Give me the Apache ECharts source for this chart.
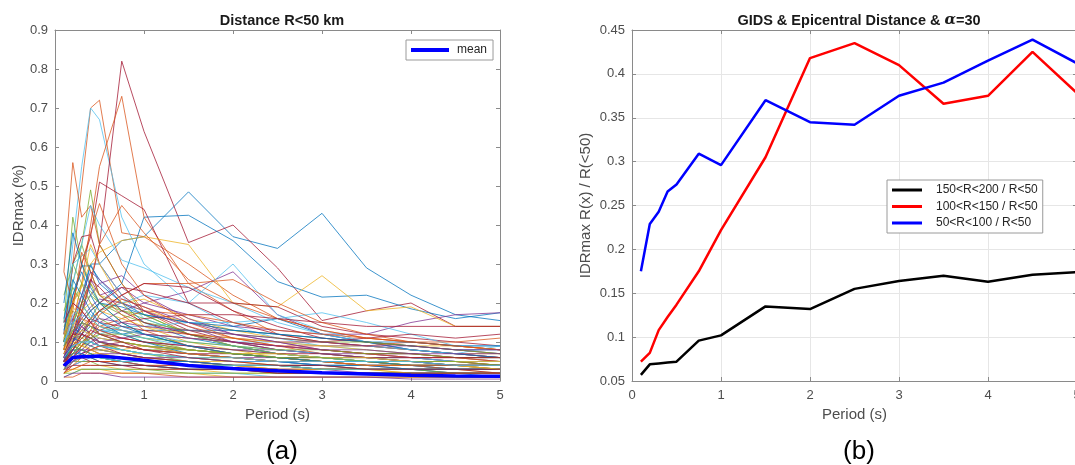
<!DOCTYPE html>
<html>
<head>
<meta charset="utf-8">
<script src="https://cdn.jsdelivr.net/npm/echarts@6/dist/echarts.min.js"></script>
<style>
html,body{margin:0;padding:0;background:#fff;}
#chart{width:1075px;height:465px;}
</style>
</head>
<body>
<div id="chart"></div>
<script>
// ---------------- DATA ----------------
const periods = [0.1, 0.2, 0.3, 0.4, 0.5, 0.75, 1, 1.5, 2, 2.5, 3, 3.5, 4, 4.5, 5];
const xTicks = [0, 1, 2, 3, 4, 5];

// panel (a): mean IDRmax (%)
const meanIDR = [0.039, 0.060, 0.062, 0.063, 0.064, 0.059, 0.053, 0.040, 0.032, 0.026, 0.021, 0.018, 0.015, 0.013, 0.012];

// panel (a): individual records, IDRmax (%) per period
const records = [
  [0.05,0.10,0.20,0.30,0.30,0.36,0.37,0.485,0.37,0.34,0.43,0.29,0.22,0.17,0.155],
  [0.10,0.30,0.50,0.70,0.72,0.38,0.37,0.30,0.22,0.16,0.13,0.11,0.10,0.09,0.08],
  [0.05,0.12,0.20,0.25,0.22,0.20,0.18,0.15,0.13,0.12,0.11,0.10,0.09,0.09,0.08],
  [0.03,0.06,0.09,0.12,0.15,0.18,0.20,0.23,0.28,0.17,0.12,0.10,0.08,0.07,0.06],
  [0.10,0.30,0.35,0.49,0.35,0.25,0.17,0.12,0.09,0.07,0.06,0.05,0.05,0.04,0.04],
  [0.12,0.35,0.55,0.70,0.67,0.42,0.30,0.20,0.14,0.11,0.09,0.08,0.07,0.06,0.06],
  [0.05,0.10,0.18,0.25,0.35,0.82,0.64,0.355,0.40,0.29,0.155,0.18,0.20,0.14,0.14],

  [0.04,0.08,0.12,0.16,0.20,0.25,0.42,0.425,0.36,0.255,0.215,0.22,0.185,0.16,0.175],
  [0.08,0.15,0.25,0.40,0.55,0.73,0.42,0.25,0.18,0.12,0.10,0.09,0.08,0.07,0.06],
  [0.05,0.09,0.13,0.16,0.18,0.20,0.21,0.16,0.13,0.11,0.10,0.09,0.08,0.07,0.07],
  [0.04,0.10,0.17,0.26,0.22,0.24,0.20,0.17,0.14,0.13,0.12,0.12,0.15,0.17,0.175],
  [0.15,0.42,0.30,0.25,0.20,0.15,0.12,0.09,0.07,0.06,0.05,0.05,0.04,0.04,0.03],
  [0.04,0.08,0.12,0.15,0.18,0.20,0.22,0.20,0.30,0.17,0.13,0.10,0.08,0.07,0.06],
  [0.10,0.20,0.30,0.37,0.51,0.475,0.44,0.20,0.15,0.12,0.10,0.09,0.08,0.07,0.06],

  [0.06,0.14,0.22,0.30,0.25,0.20,0.17,0.15,0.14,0.16,0.12,0.10,0.08,0.07,0.06],
  [0.28,0.56,0.42,0.45,0.35,0.25,0.18,0.12,0.09,0.07,0.06,0.05,0.05,0.04,0.04],
  [0.06,0.15,0.25,0.30,0.33,0.36,0.37,0.35,0.20,0.19,0.27,0.18,0.19,0.14,0.14],
  [0.06,0.12,0.18,0.22,0.25,0.27,0.22,0.16,0.12,0.10,0.08,0.07,0.06,0.05,0.05],
  [0.08,0.25,0.35,0.28,0.22,0.18,0.16,0.12,0.10,0.08,0.07,0.06,0.05,0.05,0.04],
  [0.12,0.25,0.35,0.45,0.40,0.31,0.29,0.24,0.20,0.15,0.12,0.10,0.09,0.08,0.07],
  [0.12,0.30,0.37,0.375,0.30,0.22,0.18,0.13,0.10,0.08,0.07,0.06,0.05,0.05,0.04],

  [0.10,0.22,0.295,0.295,0.26,0.20,0.15,0.11,0.09,0.07,0.06,0.05,0.05,0.04,0.04],
  [0.05,0.10,0.18,0.26,0.35,0.45,0.38,0.26,0.20,0.16,0.13,0.11,0.10,0.09,0.08],
  [0.05,0.08,0.10,0.09,0.08,0.08,0.09,0.08,0.07,0.06,0.06,0.05,0.05,0.05,0.05],
  [0.06,0.12,0.15,0.14,0.13,0.11,0.10,0.09,0.08,0.08,0.07,0.07,0.07,0.06,0.06],
  [0.22,0.30,0.25,0.20,0.16,0.13,0.11,0.08,0.07,0.06,0.05,0.04,0.04,0.04,0.03],
  [0.15,0.30,0.32,0.34,0.30,0.22,0.16,0.12,0.09,0.07,0.06,0.05,0.05,0.04,0.04],
  [0.05,0.10,0.15,0.18,0.20,0.24,0.23,0.20,0.20,0.19,0.14,0.12,0.11,0.10,0.09],

  [0.06,0.10,0.12,0.14,0.13,0.12,0.13,0.13,0.13,0.12,0.11,0.10,0.09,0.08,0.08],
  [0.08,0.20,0.30,0.38,0.455,0.30,0.22,0.15,0.11,0.09,0.07,0.06,0.05,0.05,0.04],
  [0.03,0.05,0.06,0.07,0.07,0.06,0.05,0.04,0.04,0.03,0.03,0.03,0.02,0.02,0.02],
  [0.04,0.06,0.07,0.08,0.08,0.07,0.06,0.05,0.04,0.04,0.03,0.03,0.03,0.02,0.02],
  [0.08,0.15,0.20,0.22,0.20,0.18,0.17,0.12,0.09,0.07,0.06,0.05,0.05,0.04,0.04],
  [0.03,0.06,0.08,0.10,0.12,0.14,0.14,0.15,0.15,0.16,0.175,0.15,0.12,0.09,0.09],
  [0.03,0.06,0.09,0.11,0.13,0.15,0.16,0.17,0.17,0.16,0.15,0.14,0.14,0.14,0.14],

  [0.10,0.14,0.12,0.10,0.09,0.08,0.07,0.06,0.05,0.05,0.04,0.04,0.04,0.03,0.03],
  [0.04,0.08,0.12,0.16,0.18,0.22,0.25,0.25,0.26,0.20,0.15,0.12,0.10,0.09,0.08],
  [0.06,0.09,0.11,0.12,0.10,0.08,0.07,0.06,0.05,0.04,0.04,0.03,0.03,0.03,0.02],
  [0.12,0.16,0.14,0.12,0.10,0.09,0.08,0.07,0.06,0.05,0.05,0.04,0.04,0.04,0.04],
  [0.05,0.07,0.09,0.10,0.09,0.08,0.07,0.06,0.06,0.05,0.05,0.05,0.04,0.04,0.04],
  [0.04,0.07,0.10,0.12,0.13,0.13,0.12,0.11,0.10,0.10,0.09,0.09,0.08,0.07,0.09],
  [0.05,0.10,0.14,0.16,0.15,0.14,0.13,0.12,0.11,0.10,0.10,0.11,0.12,0.11,0.12],

  [0.09,0.11,0.10,0.09,0.08,0.07,0.06,0.05,0.04,0.04,0.03,0.03,0.03,0.02,0.02],
  [0.28,0.20,0.18,0.15,0.13,0.11,0.10,0.08,0.07,0.06,0.05,0.05,0.04,0.04,0.04],
  [0.07,0.10,0.09,0.08,0.07,0.06,0.06,0.05,0.05,0.04,0.04,0.04,0.03,0.03,0.03],
  [0.02,0.04,0.05,0.05,0.05,0.05,0.04,0.04,0.03,0.03,0.03,0.02,0.02,0.02,0.02],
  [0.14,0.18,0.15,0.12,0.10,0.08,0.07,0.05,0.04,0.04,0.03,0.03,0.03,0.02,0.02],
  [0.03,0.04,0.05,0.06,0.06,0.06,0.05,0.05,0.04,0.04,0.03,0.03,0.03,0.03,0.03],
  [0.04,0.08,0.12,0.15,0.18,0.22,0.25,0.24,0.18,0.14,0.11,0.10,0.09,0.08,0.07],

  [0.06,0.08,0.08,0.07,0.06,0.05,0.05,0.04,0.03,0.03,0.02,0.02,0.02,0.02,0.01],
  [0.07,0.13,0.16,0.15,0.14,0.13,0.12,0.11,0.10,0.09,0.09,0.09,0.10,0.10,0.11],
  [0.02,0.03,0.04,0.04,0.04,0.03,0.03,0.03,0.02,0.02,0.02,0.02,0.01,0.01,0.01],
  [0.04,0.06,0.08,0.10,0.11,0.10,0.09,0.07,0.06,0.05,0.04,0.04,0.03,0.03,0.03],
  [0.10,0.12,0.11,0.10,0.09,0.09,0.08,0.08,0.07,0.07,0.06,0.06,0.06,0.05,0.05],
  [0.01,0.02,0.03,0.03,0.03,0.03,0.02,0.02,0.02,0.01,0.01,0.01,0.01,0.01,0.01],
  [0.03,0.05,0.07,0.08,0.09,0.10,0.09,0.08,0.07,0.06,0.05,0.05,0.04,0.04,0.04],

  [0.08,0.09,0.08,0.07,0.06,0.05,0.04,0.03,0.03,0.02,0.02,0.02,0.02,0.01,0.01],
  [0.05,0.06,0.06,0.06,0.05,0.05,0.05,0.04,0.04,0.04,0.04,0.03,0.03,0.03,0.03],
  [0.02,0.03,0.03,0.03,0.03,0.02,0.02,0.02,0.01,0.01,0.01,0.01,0.01,0.01,0.01],
  [0.06,0.11,0.14,0.12,0.10,0.09,0.08,0.07,0.06,0.06,0.05,0.05,0.05,0.04,0.04],
  [0.04,0.05,0.05,0.05,0.04,0.04,0.04,0.03,0.03,0.03,0.02,0.02,0.02,0.02,0.02],
  [0.11,0.13,0.12,0.11,0.10,0.09,0.08,0.07,0.06,0.05,0.05,0.04,0.04,0.04,0.04],
  [0.03,0.04,0.04,0.04,0.04,0.04,0.03,0.03,0.03,0.02,0.02,0.02,0.02,0.02,0.02],

  [0.07,0.08,0.07,0.06,0.05,0.04,0.04,0.03,0.03,0.03,0.02,0.02,0.02,0.02,0.02],
  [0.01,0.01,0.02,0.02,0.02,0.02,0.02,0.01,0.01,0.01,0.01,0.01,0.01,0.01,0.01],
  [0.09,0.10,0.09,0.08,0.08,0.07,0.07,0.06,0.06,0.05,0.05,0.05,0.04,0.04,0.04],
  [0.05,0.07,0.08,0.08,0.07,0.07,0.06,0.06,0.05,0.05,0.05,0.04,0.04,0.04,0.03],
  [0.02,0.02,0.03,0.03,0.03,0.03,0.03,0.02,0.02,0.02,0.02,0.02,0.02,0.01,0.01],
  [0.13,0.15,0.13,0.12,0.11,0.10,0.09,0.08,0.07,0.06,0.06,0.05,0.05,0.05,0.05],
  [0.04,0.09,0.12,0.11,0.09,0.07,0.06,0.05,0.04,0.04,0.03,0.03,0.03,0.03,0.02],

  [0.06,0.07,0.07,0.06,0.06,0.05,0.05,0.05,0.04,0.04,0.04,0.03,0.03,0.03,0.03],
  [0.03,0.03,0.04,0.05,0.05,0.05,0.04,0.04,0.04,0.03,0.03,0.03,0.03,0.03,0.03],
  [0.08,0.12,0.10,0.08,0.07,0.06,0.05,0.04,0.04,0.03,0.03,0.03,0.02,0.02,0.02],
  [0.01,0.02,0.02,0.02,0.02,0.01,0.01,0.01,0.01,0.01,0.01,0.01,0.005,0.005,0.005],
  [0.05,0.09,0.08,0.07,0.06,0.05,0.05,0.04,0.04,0.04,0.03,0.03,0.03,0.03,0.03],
  [0.07,0.09,0.10,0.10,0.09,0.08,0.07,0.06,0.05,0.05,0.04,0.04,0.04,0.03,0.03],
  [0.02,0.05,0.06,0.05,0.05,0.04,0.04,0.03,0.03,0.02,0.02,0.02,0.02,0.02,0.02],

  [0.05,0.10,0.15,0.18,0.20,0.19,0.17,0.15,0.13,0.12,0.11,0.10,0.10,0.09,0.09],
  [0.04,0.07,0.10,0.12,0.14,0.16,0.18,0.17,0.15,0.13,0.12,0.11,0.10,0.09,0.08],
  [0.08,0.14,0.18,0.20,0.18,0.16,0.14,0.12,0.11,0.10,0.09,0.08,0.07,0.06,0.05],
  [0.06,0.12,0.16,0.19,0.21,0.20,0.18,0.14,0.10,0.08,0.07,0.06,0.06,0.05,0.05],
  [0.10,0.20,0.25,0.23,0.20,0.17,0.15,0.13,0.12,0.11,0.10,0.10,0.09,0.08,0.07],
  [0.03,0.05,0.06,0.06,0.06,0.05,0.05,0.04,0.04,0.04,0.03,0.03,0.03,0.03,0.03],
  [0.09,0.12,0.12,0.11,0.10,0.09,0.08,0.07,0.07,0.06,0.06,0.06,0.05,0.05,0.05],

  [0.20,0.38,0.30,0.24,0.20,0.15,0.12,0.09,0.07,0.06,0.05,0.04,0.04,0.03,0.03],
  [0.08,0.18,0.33,0.28,0.22,0.17,0.13,0.09,0.07,0.06,0.05,0.04,0.04,0.03,0.03],
  [0.12,0.20,0.24,0.35,0.30,0.20,0.14,0.10,0.08,0.06,0.05,0.05,0.04,0.04,0.03],
  [0.05,0.16,0.22,0.28,0.26,0.21,0.19,0.15,0.12,0.10,0.08,0.07,0.06,0.06,0.05],
  [0.18,0.24,0.20,0.16,0.14,0.12,0.10,0.08,0.07,0.06,0.05,0.05,0.04,0.04,0.04],
  [0.09,0.17,0.19,0.17,0.15,0.13,0.12,0.10,0.09,0.08,0.07,0.06,0.06,0.05,0.05],
  [0.07,0.12,0.20,0.26,0.24,0.18,0.15,0.12,0.10,0.09,0.08,0.07,0.07,0.06,0.06],

  [0.16,0.26,0.22,0.18,0.15,0.12,0.10,0.07,0.06,0.05,0.04,0.04,0.03,0.03,0.03],
  [0.04,0.06,0.09,0.13,0.17,0.21,0.19,0.14,0.11,0.09,0.08,0.07,0.06,0.06,0.05],
  [0.11,0.19,0.16,0.14,0.12,0.10,0.09,0.07,0.06,0.05,0.05,0.04,0.04,0.04,0.03],
  [0.06,0.10,0.13,0.15,0.16,0.15,0.14,0.13,0.12,0.11,0.10,0.09,0.09,0.08,0.08],
  [0.03,0.07,0.10,0.11,0.12,0.12,0.11,0.10,0.09,0.08,0.08,0.07,0.07,0.06,0.06],
  [0.10,0.15,0.17,0.16,0.14,0.12,0.11,0.09,0.08,0.07,0.06,0.06,0.05,0.05,0.05],
  [0.05,0.08,0.11,0.13,0.12,0.11,0.10,0.09,0.08,0.07,0.07,0.06,0.06,0.06,0.06],

  [0.13,0.22,0.28,0.22,0.18,0.14,0.12,0.09,0.07,0.06,0.05,0.05,0.04,0.04,0.04],
  [0.02,0.04,0.06,0.08,0.09,0.09,0.08,0.07,0.06,0.05,0.05,0.04,0.04,0.04,0.04],
  [0.07,0.11,0.13,0.12,0.11,0.10,0.09,0.08,0.07,0.07,0.06,0.06,0.05,0.05,0.05],
  [0.04,0.05,0.07,0.09,0.10,0.11,0.12,0.11,0.10,0.09,0.08,0.08,0.07,0.07,0.07],
  [0.09,0.13,0.15,0.14,0.12,0.10,0.09,0.08,0.07,0.06,0.06,0.05,0.05,0.05,0.04],
  [0.06,0.09,0.10,0.10,0.09,0.08,0.07,0.06,0.06,0.05,0.05,0.05,0.05,0.04,0.04],
  [0.15,0.20,0.18,0.15,0.12,0.10,0.08,0.06,0.05,0.04,0.04,0.03,0.03,0.03,0.03]
];

// panel (b): ratios IDRmax R(x) / R(<50)
const ratio150to200 = [0.057, 0.069, 0.070, 0.071, 0.072, 0.096, 0.102, 0.135, 0.132, 0.155, 0.164, 0.170, 0.163, 0.171, 0.174];
const ratio100to150 = [0.072, 0.082, 0.108, 0.123, 0.137, 0.175, 0.222, 0.305, 0.418, 0.435, 0.410, 0.366, 0.375, 0.425, 0.378];
const ratio50to100  = [0.175, 0.229, 0.243, 0.266, 0.274, 0.309, 0.296, 0.370, 0.345, 0.342, 0.375, 0.390, 0.415, 0.439, 0.412];
const ratioNames = ['150<R<200 / R<50', '100<R<150 / R<50', '50<R<100 / R<50'];

// ---------------- STYLE ----------------
const palette = ['#0072BD', '#D95319', '#EDB120', '#7E2F8E', '#77AC30', '#4DBEEE', '#A2142F'];
const FONT = '"Liberation Sans", Arial, Helvetica, sans-serif';
const labelColor = '#4d4d4d';
const boxColor = '#8a8a8a';
const lineIcon = 'path://M0,0H40V4H0Z';

const pairs = vals => periods.map((p, j) => [p, vals[j]]);
const fmt = v => String(+v.toFixed(2));

function axisPair(isX, gridIndex, min, max, interval, opts) {
  const main = Object.assign({
    type: 'value', gridIndex, min, max, interval,
    position: isX ? 'bottom' : 'left',
    axisLine: { show: true, onZero: false, lineStyle: { color: boxColor, width: 1 } },
    axisTick: { show: true, inside: true, length: 4, lineStyle: { color: boxColor } },
    axisLabel: { color: labelColor, fontFamily: FONT, fontSize: 13, margin: isX ? 8 : 7, formatter: fmt },
    splitLine: { show: false },
    nameTextStyle: { color: labelColor, fontFamily: FONT, fontSize: 15 }
  }, opts || {});
  const mirror = {
    type: 'value', gridIndex, min, max, interval,
    position: isX ? 'top' : 'right',
    axisLine: { show: true, onZero: false, lineStyle: { color: boxColor, width: 1 } },
    axisTick: { show: true, inside: true, length: 4, lineStyle: { color: boxColor } },
    axisLabel: { show: false },
    splitLine: { show: false }
  };
  return [main, mirror];
}

const gridSplit = { show: true, lineStyle: { color: '#e6e6e6', width: 1 } };

const xAxes = [
  ...axisPair(true, 0, xTicks[0], xTicks[xTicks.length - 1], 1, { name: 'Period (s)', nameLocation: 'middle', nameGap: 24 }),
  ...axisPair(true, 1, xTicks[0], xTicks[xTicks.length - 1], 1, { name: 'Period (s)', nameLocation: 'middle', nameGap: 24, splitLine: gridSplit })
];
const yAxes = [
  ...axisPair(false, 0, 0, 0.9, 0.1, { name: 'IDRmax (%)', nameLocation: 'middle', nameGap: 29 }),
  ...axisPair(false, 1, 0.05, 0.45, 0.05, { name: 'IDRmax R(x) / R(<50)', nameLocation: 'middle', nameGap: 39, splitLine: gridSplit })
];

const series = [];
records.forEach((r, i) => {
  series.push({
    type: 'line', name: 'rec' + i, xAxisIndex: 0, yAxisIndex: 0,
    data: pairs(r), symbol: 'none', silent: true, animation: false,
    lineStyle: { width: 0.9, color: palette[i % palette.length], opacity: 0.85 },
    z: 2
  });
});
series.push({
  type: 'line', name: 'mean', xAxisIndex: 0, yAxisIndex: 0,
  data: pairs(meanIDR), symbol: 'none', animation: false,
  lineStyle: { width: 3.5, color: '#0000ff' }, itemStyle: { color: '#0000ff' }, z: 5
});
const ratioSets = [ratio150to200, ratio100to150, ratio50to100];
const ratioColors = ['#000000', '#ff0000', '#0000ff'];
ratioSets.forEach((vals, k) => {
  series.push({
    type: 'line', name: ratioNames[k], xAxisIndex: 2, yAxisIndex: 2,
    data: pairs(vals), symbol: 'none', animation: false,
    lineStyle: { width: 2.5, color: ratioColors[k] }, itemStyle: { color: ratioColors[k] }, z: 5
  });
});

const option = {
  backgroundColor: '#ffffff',
  animation: false,
  textStyle: { fontFamily: FONT },
  title: [
    { text: 'Distance R<50 km', left: 277, top: 8, textAlign: 'center',
      textStyle: { fontFamily: FONT, fontSize: 14.5, fontWeight: 'bold', color: '#1a1a1a' } },
    { text: '{t|GIDS & Epicentral Distance & }{a|α}{t|=30}', left: 854, top: 8, textAlign: 'center',
      textStyle: { rich: {
        t: { fontFamily: FONT, fontSize: 14.5, fontWeight: 'bold', color: '#1a1a1a' },
        a: { fontFamily: '"DejaVu Serif", serif', fontStyle: 'italic', fontSize: 15, color: '#1a1a1a' }
      } } },
    { text: '(a)', left: 277, top: 434, textAlign: 'center',
      textStyle: { fontFamily: FONT, fontSize: 26, fontWeight: 'normal', color: '#000' } },
    { text: '(b)', left: 854, top: 434, textAlign: 'center',
      textStyle: { fontFamily: FONT, fontSize: 26, fontWeight: 'normal', color: '#000' } }
  ],
  legend: [
    { data: ['mean'], left: 406, top: 40, orient: 'vertical', icon: lineIcon,
      itemWidth: 38, itemHeight: 4, padding: [4, 6, 4, 5],
      itemStyle: { borderWidth: 0 },
      backgroundColor: '#fff', borderColor: '#9a9a9a', borderWidth: 1, borderRadius: 0,
      textStyle: { fontFamily: FONT, fontSize: 12, color: '#262626', padding: [0, 0, 0, 3] }, selectedMode: false },
    { data: ratioNames, left: 887, top: 180, orient: 'vertical', icon: lineIcon,
      itemWidth: 40, itemHeight: 3, itemGap: 2.5, padding: [3, 5, 3, 5],
      itemStyle: { borderWidth: 0 },
      backgroundColor: '#fff', borderColor: '#9a9a9a', borderWidth: 1, borderRadius: 0,
      textStyle: { fontFamily: FONT, fontSize: 12, color: '#262626', lineHeight: 14, padding: [0, 0, 0, 4] }, selectedMode: false }
  ],
  grid: [
    { left: 55, width: 445, top: 30, height: 351, containLabel: false, outerBoundsMode: 'none' },
    { left: 632, width: 445, top: 30, height: 351, containLabel: false, outerBoundsMode: 'none' }
  ],
  xAxis: xAxes,
  yAxis: yAxes,
  series
};

const chart = echarts.init(document.getElementById('chart'), null, { renderer: 'canvas' });
chart.setOption(option);
</script>
</body>
</html>
